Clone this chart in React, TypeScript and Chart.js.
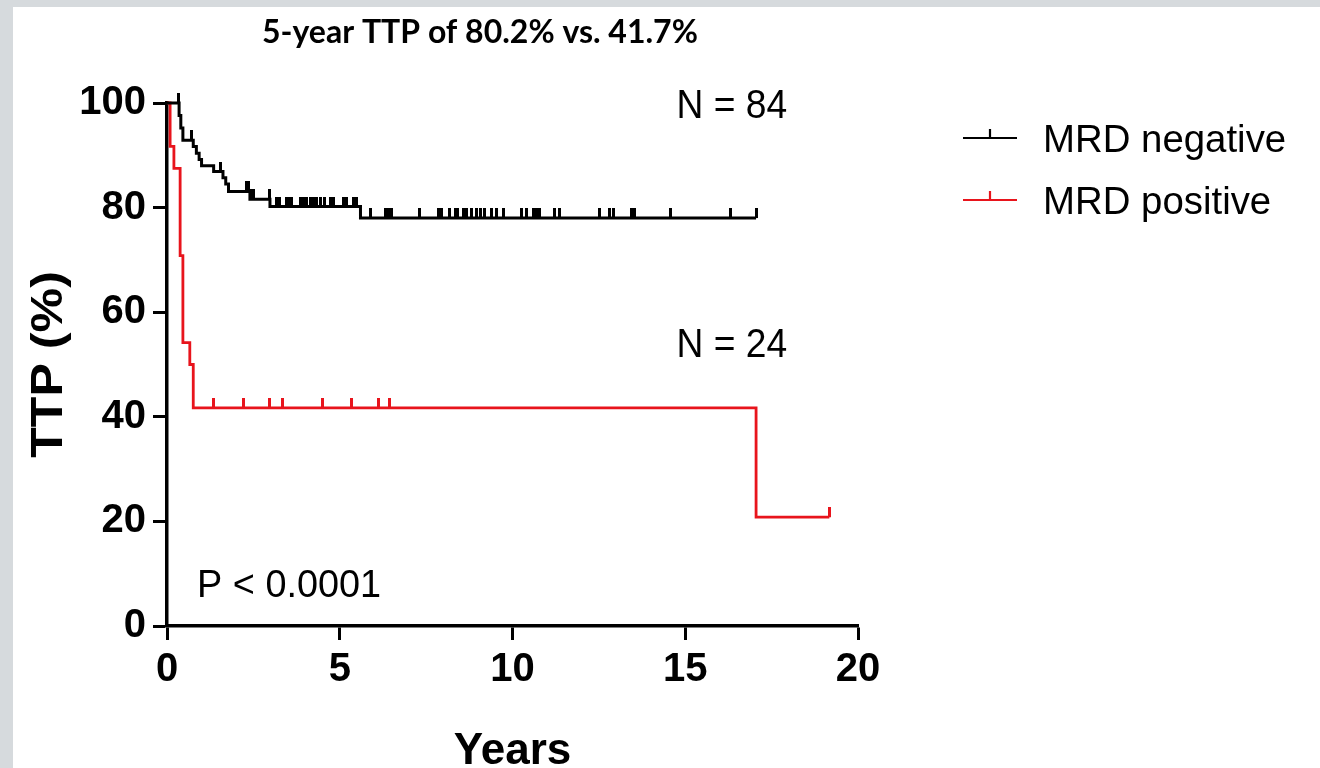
import { useEffect, useRef } from "react";
import { Chart, registerables } from "chart.js";

Chart.register(...registerables);

// Axis ticks
const xTicks = [0, 5, 10, 15, 20];
const yTicks = [0, 20, 40, 60, 80, 100];

// MRD negative: Kaplan-Meier step points (years, % free of progression)
const negTimes = [0, 0.35, 0.4, 0.46, 0.76, 0.85, 0.93, 1.0, 1.35, 1.62, 1.7, 1.78, 2.4, 2.98, 5.6, 17.05];
const negSurv = [100, 97.6, 95.2, 92.9, 91.7, 90.4, 89.2, 88.0, 86.9, 85.7, 84.5, 83.1, 81.6, 80.2, 78.0, 78.0];
// MRD negative: censored follow-up times (years)
const negCensored = [
  0.33, 0.72, 1.54, 2.3, 2.36, 2.45, 2.5, 2.97,
  3.18, 3.27, 3.46, 3.56, 3.61, 3.85, 3.95, 4.04, 4.14, 4.23, 4.33, 4.43, 4.57, 4.72, 4.81, 5.1, 5.2, 5.39, 5.49,
  5.88, 6.31, 6.42, 6.5, 7.32, 7.85, 7.95, 8.19, 8.34, 8.42, 8.57, 8.68, 8.82, 8.96, 9.06, 9.2, 9.4, 9.54, 9.73,
  10.26, 10.4, 10.6, 10.7, 10.79, 11.23, 11.37, 12.53, 12.8, 12.92, 13.45, 13.54, 14.58, 16.3, 17.05,
];

// MRD positive: Kaplan-Meier step points
const posTimes = [0, 0.09, 0.2, 0.38, 0.46, 0.66, 0.76, 17.05, 19.17];
const posSurv = [100, 91.7, 87.5, 70.8, 54.2, 50.0, 41.7, 20.8, 20.8];
// MRD positive: censored follow-up times
const posCensored = [1.36, 2.21, 2.96, 3.35, 4.5, 5.34, 6.12, 6.43, 19.17];

const seriesLabels = ["MRD negative", "MRD positive"];
const seriesColors = ["#000000", "#e8141c"];
const groupSizes = [84, 24];
const titleText = "5-year TTP of 80.2% vs. 41.7%";
const pValueText = "P < 0.0001";

const survivalAt = (times: number[], surv: number[], t: number) => {
  let v = surv[0];
  for (let i = 0; i < times.length; i++) if (times[i] <= t) v = surv[i];
  return v;
};

// Censor mark: a short vertical stroke rising above the point
const makeTick = (color: string, len: number, w: number) => {
  const c = document.createElement("canvas");
  c.width = w;
  c.height = len * 2;
  const g = c.getContext("2d")!;
  g.fillStyle = color;
  g.fillRect(0, 0, w, len);
  return c;
};

const SANS = "'Liberation Sans', Arial, sans-serif";

const drawText = (
  ctx: CanvasRenderingContext2D,
  text: string,
  x: number,
  y: number,
  font: string,
  sx = 1,
  sy = 1,
  rotate = 0
) => {
  ctx.save();
  ctx.font = font;
  ctx.fillStyle = "#000";
  ctx.textAlign = rotate ? "center" : "left";
  ctx.textBaseline = rotate ? "middle" : "alphabetic";
  ctx.translate(x, y);
  if (rotate) ctx.rotate(rotate);
  ctx.scale(sx, sy);
  ctx.fillText(text, 0, 0);
  ctx.restore();
};

const annotations = {
  id: "kmAnnotations",
  afterDraw(chart: any) {
    const { ctx, scales, chartArea } = chart;
    const xs = scales.x;
    const ys = scales.y;

    // Title
    drawText(ctx, titleText, 262, 43, "bold 32px Lato, 'Open Sans', sans-serif");

    // Y axis title, stretched along the axis
    drawText(ctx, "TTP (%)", 50, (chartArea.top + chartArea.bottom) / 2, `bold 44px ${SANS}`, 1.14, 1, -Math.PI / 2);

    // Group sizes
    drawText(ctx, `N = ${groupSizes[0]}`, xs.getPixelForValue(14.75), ys.getPixelForValue(97.1), `40px ${SANS}`, 0.93);
    drawText(ctx, `N = ${groupSizes[1]}`, xs.getPixelForValue(14.75), ys.getPixelForValue(51.5), `40px ${SANS}`, 0.93);

    // Log-rank p value
    drawText(ctx, pValueText, xs.getPixelForValue(0.87), ys.getPixelForValue(5.5), `39px ${SANS}`, 0.97);

    // Legend
    const rows = [138, 200];
    seriesLabels.forEach((label, i) => {
      const y = rows[i];
      ctx.save();
      ctx.strokeStyle = seriesColors[i];
      ctx.lineWidth = 2.2;
      ctx.beginPath();
      ctx.moveTo(963, y);
      ctx.lineTo(1017, y);
      ctx.moveTo(990, y);
      ctx.lineTo(990, y - 9);
      ctx.stroke();
      ctx.restore();
      drawText(ctx, label, 1043, y + 14, `38px ${SANS}`, 1.01);
    });
  },
};

export default function App() {
  const ref = useRef<HTMLCanvasElement | null>(null);

  useEffect(() => {
    if (!ref.current) return;
    const stepData = (t: number[], s: number[]) => t.map((x, i) => ({ x, y: s[i] }));
    const censorData = (c: number[], t: number[], s: number[]) =>
      c.map((x) => ({ x, y: survivalAt(t, s, x) }));

    const chart = new Chart(ref.current, {
      type: "line",
      data: {
        datasets: [
          {
            label: seriesLabels[0],
            data: stepData(negTimes, negSurv),
            borderColor: seriesColors[0],
            borderWidth: 3,
            stepped: "before",
            pointRadius: 0,
            clip: false,
          },
          {
            label: seriesLabels[1],
            data: stepData(posTimes, posSurv),
            borderColor: seriesColors[1],
            borderWidth: 2.8,
            stepped: "before",
            pointRadius: 0,
            clip: false,
          },
          {
            label: seriesLabels[0] + " censored",
            data: censorData(negCensored, negTimes, negSurv),
            showLine: false,
            pointStyle: makeTick(seriesColors[0], 10, 3) as any,
            pointRadius: 3,
            borderWidth: 0,
            clip: false,
          },
          {
            label: seriesLabels[1] + " censored",
            data: censorData(posCensored, posTimes, posSurv),
            showLine: false,
            pointStyle: makeTick(seriesColors[1], 10, 3) as any,
            pointRadius: 3,
            borderWidth: 0,
            clip: false,
          },
        ],
      },
      options: {
        animation: false,
        responsive: false,
        events: [],
        layout: { padding: { left: 0, right: 462, top: 103, bottom: 0 } },
        plugins: { legend: { display: false }, tooltip: { enabled: false } },
        scales: {
          x: {
            type: "linear",
            min: 0,
            max: 20,
            afterFit: (s: any) => {
              s.height = 174;
            },
            afterBuildTicks: (s: any) => {
              s.ticks = xTicks.map((v) => ({ value: v }));
            },
            border: { display: true, color: "#000", width: 3.5 },
            grid: { drawOnChartArea: false, drawTicks: true, tickLength: 14, tickWidth: 3, tickColor: "#000" },
            ticks: { color: "#000", padding: 6, font: { family: SANS, size: 40, weight: "bold" }, maxRotation: 0 },
            title: {
              display: true,
              text: "Years",
              color: "#000",
              font: { family: SANS, size: 44, weight: "bold" },
              padding: { top: 0, bottom: 22 },
            },
          },
          y: {
            type: "linear",
            min: 0,
            max: 100,
            afterFit: (s: any) => {
              s.width = 167;
            },
            afterBuildTicks: (s: any) => {
              s.ticks = yTicks.map((v) => ({ value: v }));
            },
            border: { display: true, color: "#000", width: 3.5 },
            grid: { drawOnChartArea: false, drawTicks: true, tickLength: 14, tickWidth: 3, tickColor: "#000" },
            ticks: { color: "#000", padding: 7, font: { family: SANS, size: 40, weight: "bold" } },
          },
        },
      },
      plugins: [annotations],
    });
    return () => chart.destroy();
  }, []);

  return (
    <div style={{ position: "fixed", left: 0, top: 0, width: 1320, height: 768, overflow: "hidden", background: "#d6dadd" }}>
      <div style={{ position: "absolute", left: 13, top: 7, right: 0, bottom: 0, background: "#fff" }} />
      <canvas ref={ref} width={1320} height={800} style={{ position: "absolute", left: 0, top: 0, width: 1320, height: 800 }} />
    </div>
  );
}
